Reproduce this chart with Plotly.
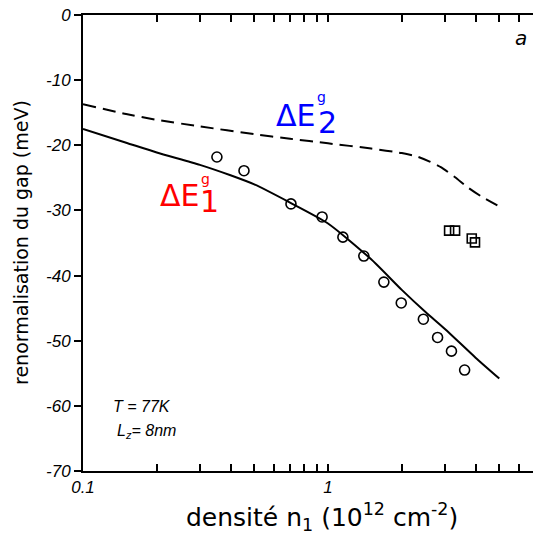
import numpy as np
import plotly.graph_objects as go

# Theory curves (density in 1e12 cm^-2, renormalisation in meV)
dE1_x = [0.1, 0.15, 0.2, 0.3, 0.4, 0.5, 0.7, 1.0, 1.5, 2.0, 2.5, 3.0, 4.0, 5.0]
dE1_y = [-17.5, -19.6, -21.1, -23.0, -24.6, -26.0, -28.8, -32.0, -37.5, -42.2, -45.6, -48.2, -52.6, -55.8]

dE2_x = [0.1, 0.15, 0.2, 0.3, 0.5, 0.7, 1.0, 1.5, 2.0, 2.3, 2.6, 2.9, 3.3, 3.7, 4.2, 5.0]
dE2_y = [-13.7, -15.2, -16.1, -17.1, -18.3, -19.0, -19.7, -20.5, -21.2, -21.7, -22.5, -23.4, -24.9, -26.4, -27.8, -29.4]

# Experimental points
circ_x = [0.352, 0.454, 0.706, 0.946, 1.15, 1.40, 1.69, 1.99, 2.45, 2.80, 3.19, 3.61]
circ_y = [-21.8, -23.9, -29.0, -31.0, -34.1, -37.0, -41.0, -44.2, -46.7, -49.5, -51.6, -54.5]

sq_x = [3.12, 3.30, 3.86, 3.98]
sq_y = [-33.1, -33.1, -34.3, -34.9]

x_ticks = [0.1, 0.2, 0.3, 0.4, 0.5, 0.6, 0.7, 0.8, 0.9, 1, 2, 3, 4, 5, 6, 7]
x_ticktext = ["0.1", "", "", "", "", "", "", "", "", "1", "", "", "", "", "", ""]
y_ticks = [0, -10, -20, -30, -40, -50, -60, -70]
y_ticktext = ["0", "-10", "-20", "-30", "-40", "-50", "-60", "-70"]

fig = go.Figure()
fig.add_trace(go.Scatter(x=dE2_x, y=dE2_y, mode="lines",
                         line=dict(color="black", width=2, dash="13px,7px", shape="spline", smoothing=0.6),
                         showlegend=False))
fig.add_trace(go.Scatter(x=dE1_x, y=dE1_y, mode="lines",
                         line=dict(color="black", width=2, shape="spline", smoothing=0.6),
                         showlegend=False))
fig.add_trace(go.Scatter(x=circ_x, y=circ_y, mode="markers",
                         marker=dict(symbol="circle-open", size=10, color="black",
                                     line=dict(width=1.6)),
                         showlegend=False))
fig.add_trace(go.Scatter(x=sq_x, y=sq_y, mode="markers",
                         marker=dict(symbol="square-open", size=9, color="black",
                                     line=dict(width=1.6)),
                         showlegend=False))

# page has an 8px body margin; figure placed so plot area spans x 83..541, y 15..471 on screen
OFF = 8
W, H = 533, 526
L, R, T, B = 75, 0, 7, 63
pw, ph = W - L - R, H - T - B

def px(x):
    return (x - OFF - L) / pw

def py(y):
    return (H - B - (y - OFF)) / ph

ann = []
def add(text, x, y, size, color="black", style="normal", family="DejaVu Sans"):
    ann.append(dict(text=text, x=px(x), y=py(y), xref="paper", yref="paper",
                    showarrow=False, xanchor="center", yanchor="middle",
                    font=dict(size=size, color=color, family=family, style=style)))

add("ΔE", 295, 116, 30, "blue")
add("2", 327, 122, 30, "blue")
add("g", 321, 97, 14, "blue")
add("ΔE", 179, 195, 30, "red")
add("1", 209, 201, 30, "red")
add("g", 205, 179, 14, "red")
add("a", 521, 38, 20, "black", "italic", "DejaVu Sans")
add("T = 77K", 142, 406, 16, "black", "italic", "Liberation Sans")
add("L<sub>z</sub>= 8nm", 146, 431, 16, "black", "italic", "Liberation Sans")

# axis titles as annotations placed precisely
ann.append(dict(text="densité n<sub>1</sub> (10<sup>12</sup> cm<sup>-2</sup>)",
                x=px(322), y=py(517), xref="paper", yref="paper", showarrow=False,
                xanchor="center", yanchor="middle",
                font=dict(family="DejaVu Sans", size=25, color="black")))
ann.append(dict(text="renormalisation du gap (meV)", textangle=-90,
                x=px(21), y=py(243), xref="paper", yref="paper", showarrow=False,
                xanchor="center", yanchor="middle",
                font=dict(family="DejaVu Sans", size=19, color="black")))

fig.update_layout(
    width=W, height=H,
    margin=dict(l=L, r=R, t=T, b=B),
    plot_bgcolor="white", paper_bgcolor="white",
    annotations=ann,
    xaxis=dict(type="log", range=[-1, np.log10(7.4)], automargin=False,
               tickvals=x_ticks, ticktext=x_ticktext, ticklabeloverflow="allow",
               ticks="inside", ticklen=7, tickwidth=1.5, tickcolor="black",
               showline=True, linecolor="black", linewidth=2, mirror="ticks",
               showgrid=False, zeroline=False,
               tickfont=dict(family="Liberation Sans", size=17, style="italic", color="black")),
    yaxis=dict(range=[-70, 0], tickvals=y_ticks, ticktext=y_ticktext, automargin=False,
               ticklabeloverflow="allow",
               ticks="outside", ticklen=7, tickwidth=1.5, tickcolor="black",
               showline=True, linecolor="black", linewidth=2,
               showgrid=False, zeroline=False,
               tickfont=dict(family="Liberation Sans", size=17, style="italic", color="black")),
)

fig.write_html("out.html")
